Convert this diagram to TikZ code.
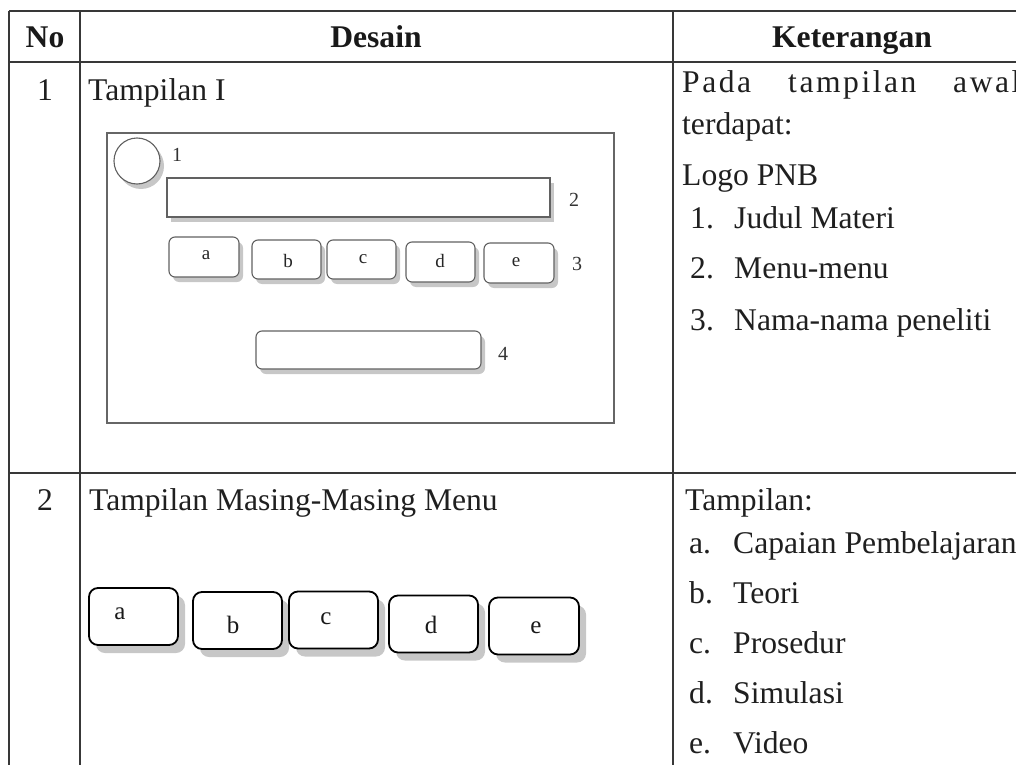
\documentclass[tikz,border=0pt]{standalone}
\usepackage{fontspec}
\setmainfont{Liberation Serif}
\usetikzlibrary{shadows}
\begin{document}
\begin{tikzpicture}[x=1pt,y=-1pt,
  gridline/.style={draw=black!78, line width=1.6pt},
  body/.style={font=\fontsize{31.6}{36}\selectfont, inner sep=0pt, anchor=base west, text=black!88},
  wide/.style={font=\fontsize{31.6}{36}\selectfont\addfontfeature{LetterSpace=8}, inner sep=0pt, anchor=base west, text=black!88},
  head/.style={font=\fontsize{31.6}{36}\selectfont\bfseries, inner sep=0pt, anchor=base, text=black!90},
  frame/.style={draw=black!60, line width=1.3pt},
  small/.style={font=\fontsize{20}{24}\selectfont, inner sep=0pt, text=black!80},
  btxt/.style={font=\fontsize{19}{22}\selectfont, inner sep=0pt, text=black!85},
  sbox/.style={draw=black!62, line width=1.1pt, fill=white, inner sep=0pt,
     drop shadow={shadow xshift=4pt, shadow yshift=-5pt, fill=black!22, opacity=1}},
  sbtn/.style={sbox, rounded corners=6pt},
  bigbtn/.style={draw=black, line width=1.8pt, fill=white, rounded corners=9pt, inner sep=0pt,
     minimum width=89pt, minimum height=57pt,
     drop shadow={shadow xshift=7pt, shadow yshift=-8pt, fill=black!22, opacity=1}},
  bigtxt/.style={font=\fontsize{25}{28}\selectfont, inner sep=0pt, text=black!90}
]
\useasboundingbox (0,0) rectangle (1016,765);
\clip (0,0) rectangle (1016,765);

% table grid
\coordinate (tl) at (9,11);
\coordinate (tr) at (1016,11);
\coordinate (hl) at (9,62);
\coordinate (hr) at (1016,62);
\coordinate (rl) at (9,473);
\coordinate (rr) at (1016,473);
\coordinate (c1t) at (80,11);
\coordinate (c1b) at (80,765);
\coordinate (c2t) at (673,11);
\coordinate (c2b) at (673,765);
\coordinate (bl) at (9,765);
\draw[gridline] (tl) -- (tr);
\draw[gridline] (hl) -- (hr);
\draw[gridline] (rl) -- (rr);
\draw[gridline] (tl) -- (bl);
\draw[gridline] (c1t) -- (c1b);
\draw[gridline] (c2t) -- (c2b);

% header
\node[head] (hNo) at (45,48) {No};
\node[head] (hDes) at (376,48) {Desain};
\node[head] (hKet) at (852,48) {Keterangan};

% row 1
\node[body, anchor=base] (n1) at (45,100) {1};
\node[body] (t1) at (88,100) {Tampilan I};
\draw[frame] (107,133) rectangle (614,423);
\node[sbox, circle, minimum size=46pt] (logo) at (137,161) {};
\node[small] (l1) at (177,155) {1};
\node[sbox, minimum width=383pt, minimum height=39pt] (judul) at (358.5,197.5) {};
\node[small] (l2) at (574,200) {2};
\node[sbtn, minimum width=70pt, minimum height=40pt] (ba) at (204,257) {};
\node[sbtn, minimum width=69pt, minimum height=39pt] (bb) at (286.5,259.5) {};
\node[sbtn, minimum width=69pt, minimum height=39pt] (bc) at (361.5,259.5) {};
\node[sbtn, minimum width=69pt, minimum height=40pt] (bd) at (440.5,262) {};
\node[sbtn, minimum width=70pt, minimum height=40pt] (be) at (519,263) {};
\node[btxt] (ta) at (206,255) {a};
\node[btxt] (tb) at (288,261) {b};
\node[btxt] (tc) at (363,259) {c};
\node[btxt] (td) at (440,261) {d};
\node[btxt] (te) at (516,262) {e};
\node[small] (l3) at (577,264) {3};
\node[sbtn, minimum width=225pt, minimum height=38pt] (nama) at (368.5,350) {};
\node[small] (l4) at (503,354) {4};

% row 1 description
\node[wide] (k1a) at (682,93) {Pada};
\node[wide] (k1b) at (788,93) {tampilan};
\node[wide] (k1c) at (953,93) {awal};
\node[body] (k2) at (682,135) {terdapat:};
\node[body] (k3) at (682,185) {Logo PNB};
\node[body] (k4n) at (690,228) {1.};
\node[body] (k4) at (734,228) {Judul Materi};
\node[body] (k5n) at (690,278) {2.};
\node[body] (k5) at (734,278) {Menu-menu};
\node[body] (k6n) at (690,330) {3.};
\node[body] (k6) at (734,330) {Nama-nama peneliti};

% row 2
\node[body, anchor=base] (n2) at (45,510) {2};
\node[body] (t2) at (89,510) {Tampilan Masing-Masing Menu};
\node[bigbtn] (Ba) at (133.5,616.5) {};
\node[bigbtn] (Bb) at (237.5,620.5) {};
\node[bigbtn] (Bc) at (333.5,620) {};
\node[bigbtn] (Bd) at (433.5,624) {};
\node[bigbtn, minimum width=90pt] (Be) at (534,626) {};
\node[bigtxt] (Ta) at (120,614) {a};
\node[bigtxt] (Tb) at (233,625) {b};
\node[bigtxt] (Tc) at (326,619) {c};
\node[bigtxt] (Td) at (431,625) {d};
\node[bigtxt] (Te) at (536,628) {e};

% row 2 description
\node[body] (m0) at (685,510) {Tampilan:};
\node[body] (m1n) at (689,553) {a.};
\node[body] (m1) at (733,553) {Capaian Pembelajaran};
\node[body] (m2n) at (689,603) {b.};
\node[body] (m2) at (733,603) {Teori};
\node[body] (m3n) at (689,653) {c.};
\node[body] (m3) at (733,653) {Prosedur};
\node[body] (m4n) at (689,703) {d.};
\node[body] (m4) at (733,703) {Simulasi};
\node[body] (m5n) at (689,753) {e.};
\node[body] (m5) at (733,753) {Video};
\end{tikzpicture}
\end{document}
